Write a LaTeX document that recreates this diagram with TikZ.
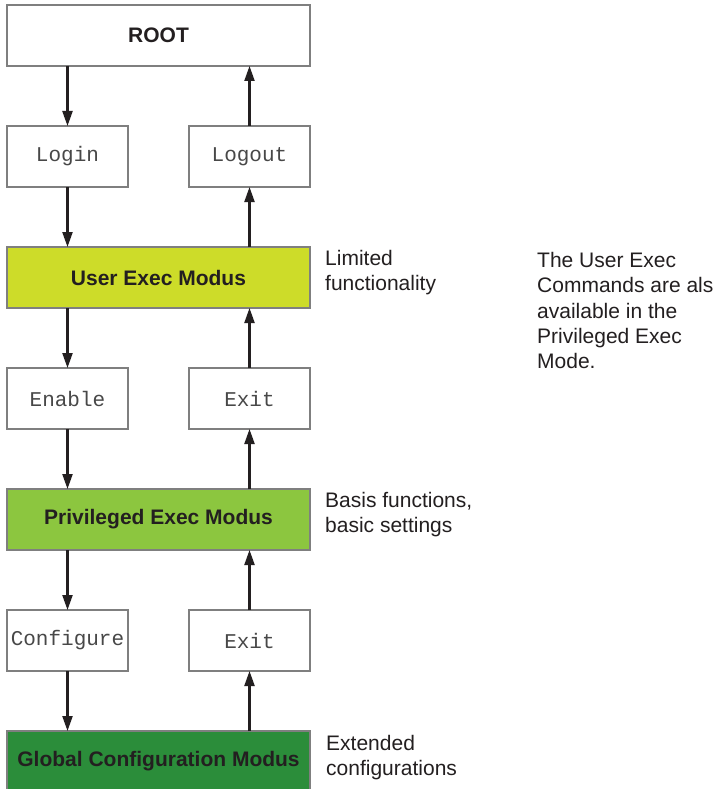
\documentclass[tikz,border=0pt]{standalone}
\usepackage{fontspec}
\setmainfont{Liberation Sans}
\setmonofont{Liberation Mono}
\usetikzlibrary{arrows.meta}
\definecolor{uexec}{HTML}{CDDC29}
\definecolor{pexec}{HTML}{8CC63F}
\definecolor{gconf}{HTML}{2B8D3A}
\definecolor{ink}{HTML}{231F20}
\definecolor{framegray}{HTML}{7F7F7F}
\definecolor{cmdgray}{HTML}{484848}
\begin{document}
\begin{tikzpicture}[x=1pt,y=-1pt,
 bigbox/.style={draw=framegray,line width=1.2pt,minimum width=303pt,minimum height=61pt,inner sep=0pt,outer sep=0pt,anchor=north west,font=\fontsize{21}{25}\selectfont\bfseries,text=ink},
 cmdbox/.style={draw=framegray,fill=white,line width=1.2pt,minimum width=121pt,minimum height=61pt,inner sep=0pt,outer sep=0pt,anchor=north west,font=\fontsize{21}{25}\selectfont\ttfamily,text=cmdgray},
 note/.style={anchor=base west,align=left,inner sep=0pt,font=\fontsize{21}{25.3}\selectfont,text=ink},
 flow/.style={draw=ink,line width=2.2pt,-{Triangle[length=15pt,width=10pt]}}]
\useasboundingbox (0,0) rectangle (713,789);
\fill[white] (0,0) rectangle (713,789);

\node[bigbox,fill=white] (root) at (7,5) {ROOT};
\node[cmdbox] (login) at (7,126) {Login};
\node[cmdbox] (logout) at (189,126) {Logout};
\node[bigbox,fill=uexec] (user) at (7,247) {User Exec Modus};
\node[cmdbox] (enable) at (7,368) {Enable};
\node[cmdbox] (exit1) at (189,368) {Exit};
\node[bigbox,fill=pexec] (priv) at (7,489) {Privileged Exec Modus};
\node[cmdbox] (configure) at (7,610) {Configure};
\node[cmdbox] (exit2) at (189,610) {Exit};
\node[bigbox,fill=gconf] (global) at (7,731) {Global Configuration Modus};

\draw[flow] (root.south -| login.north) -- (login.north);
\draw[flow] (login.south) -- (login.south |- user.north);
\draw[flow] (user.south -| enable.north) -- (enable.north);
\draw[flow] (enable.south) -- (enable.south |- priv.north);
\draw[flow] (priv.south -| configure.north) -- (configure.north);
\draw[flow] (configure.south) -- (configure.south |- global.north);

\draw[flow] (logout.north) -- (logout.north |- root.south);
\draw[flow] (user.north -| logout.south) -- (logout.south);
\draw[flow] (exit1.north) -- (exit1.north |- user.south);
\draw[flow] (priv.north -| exit1.south) -- (exit1.south);
\draw[flow] (exit2.north) -- (exit2.north |- priv.south);
\draw[flow] (global.north -| exit2.south) -- (exit2.south);

\node[note] (n1) at (325,290.8) {Limited\\functionality};
\node[note] (n2) at (537,368.7) {The User Exec\\Commands are also\\available in the\\Privileged Exec\\Mode.};
\node[note] (n3) at (325,532.8) {Basis functions,\\basic settings};
\node[note] (n4) at (326,775.3) {Extended\\configurations};
\end{tikzpicture}
\end{document}
